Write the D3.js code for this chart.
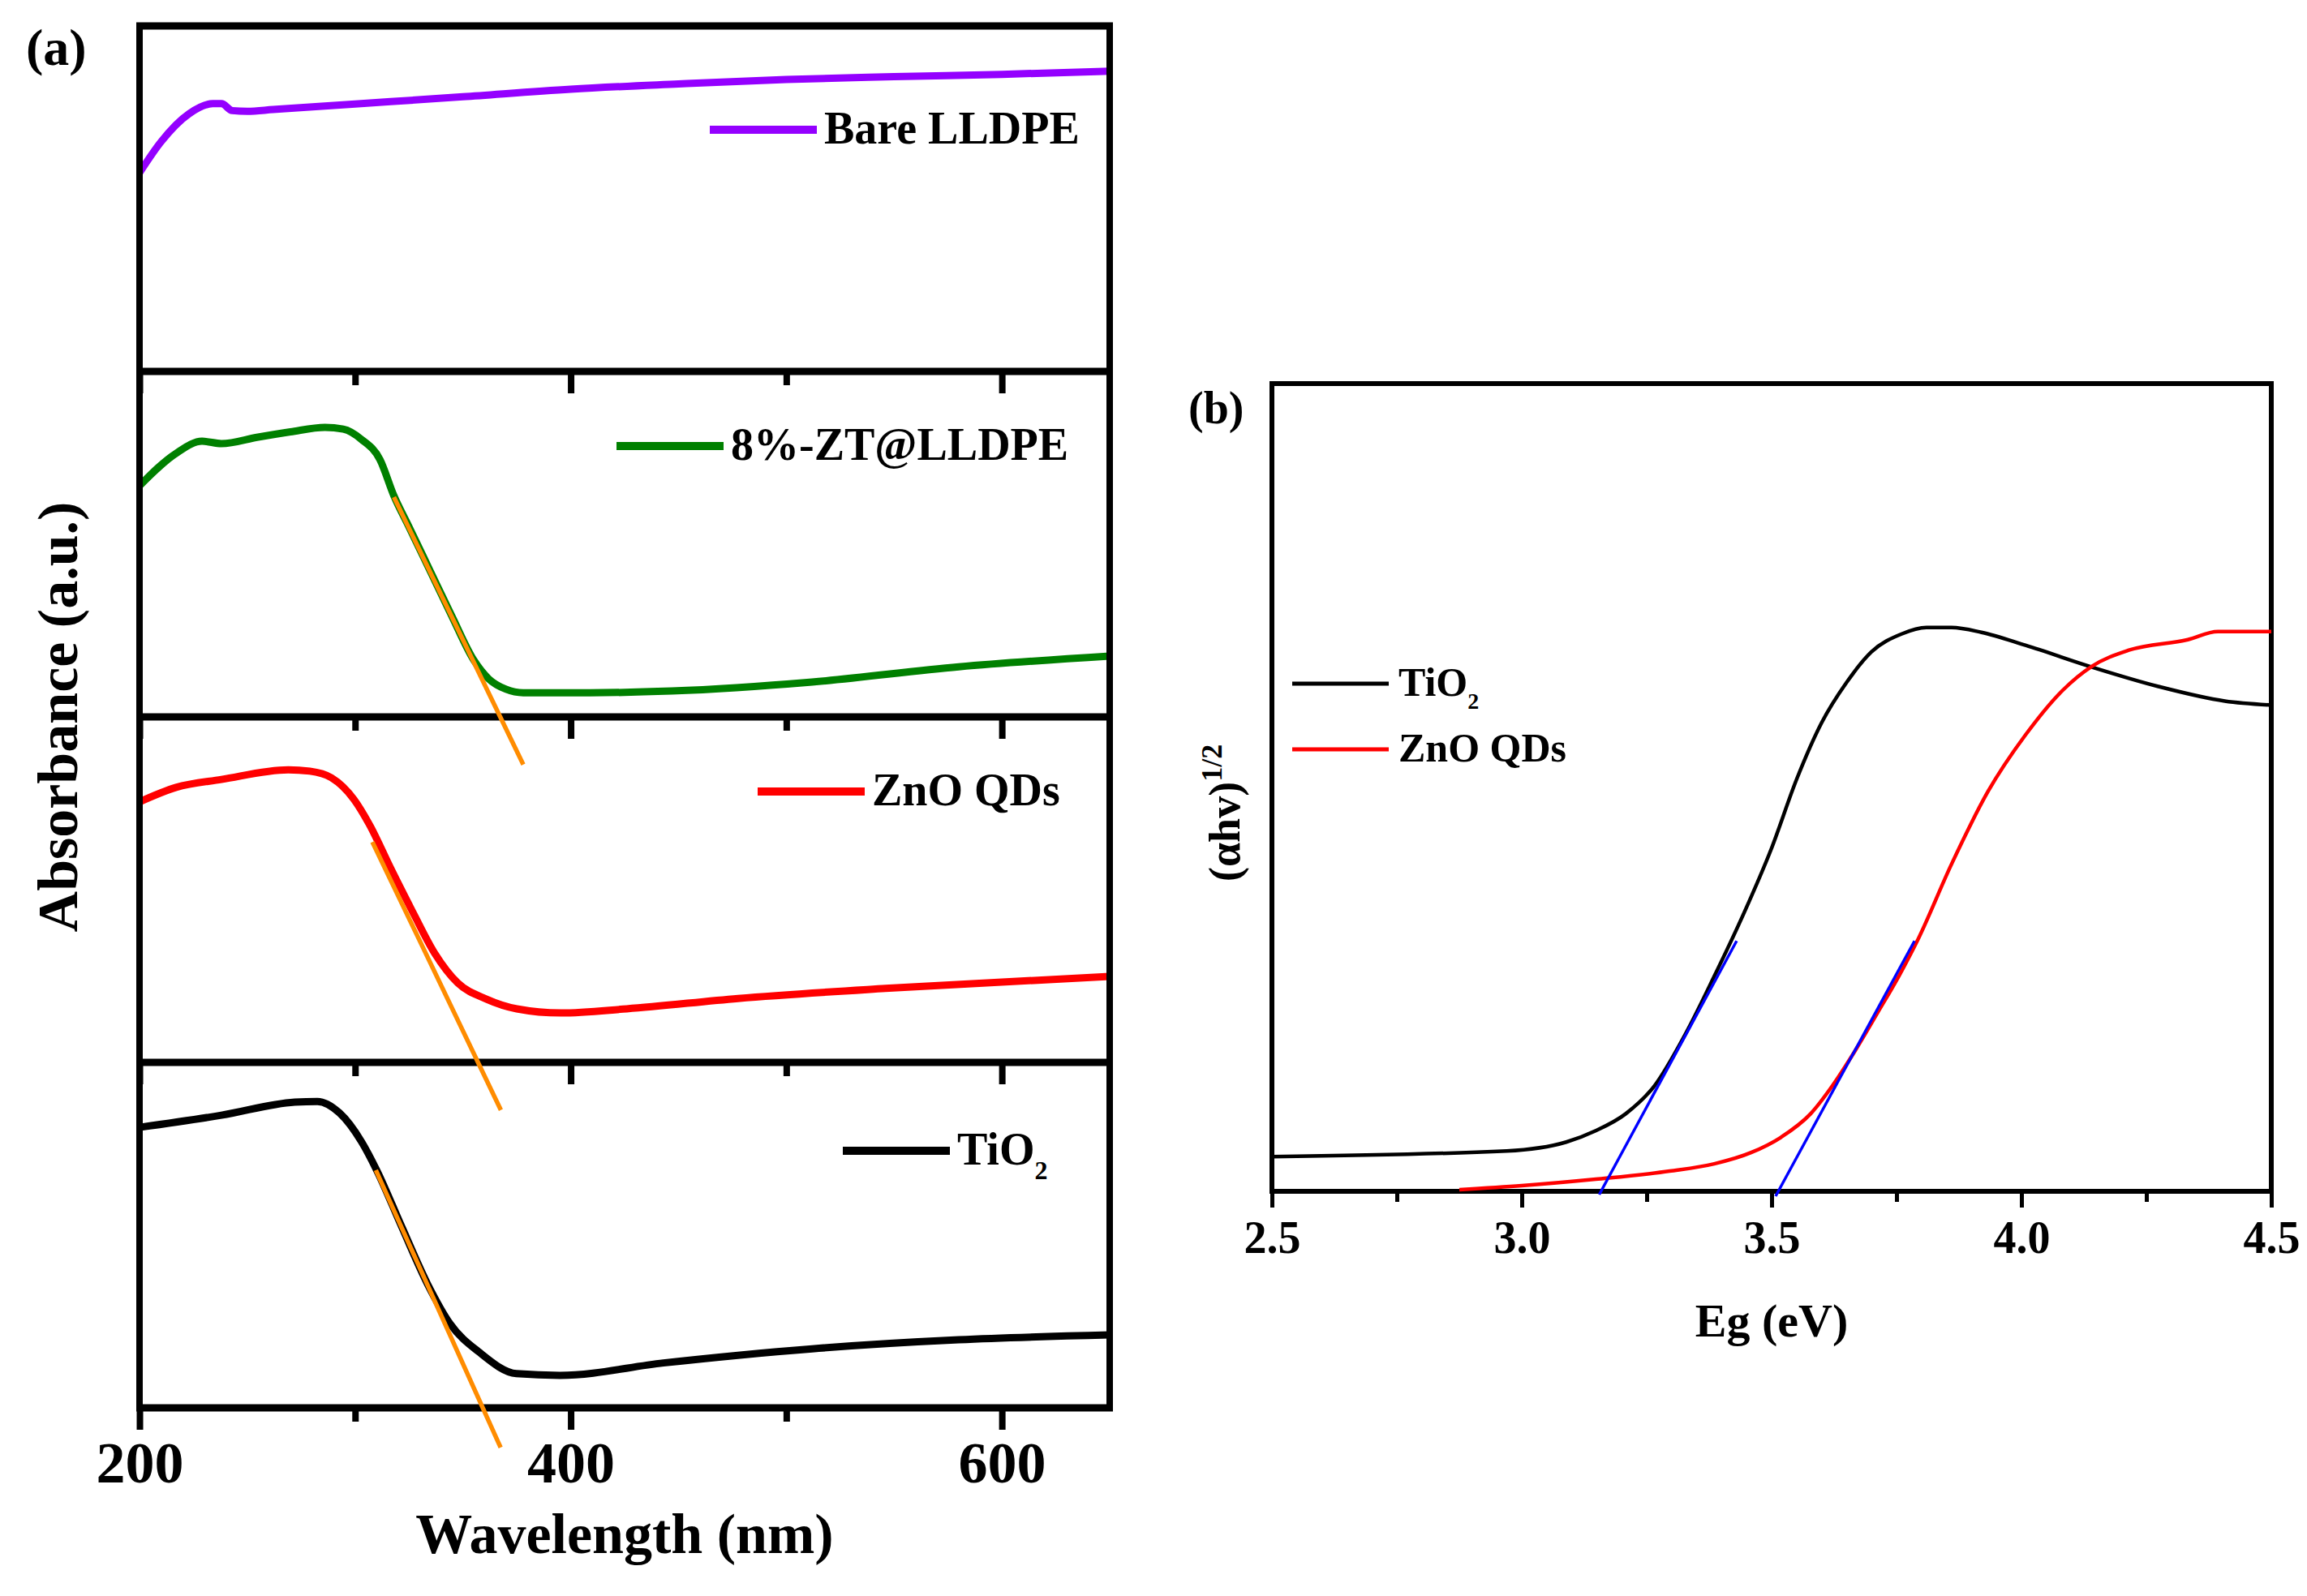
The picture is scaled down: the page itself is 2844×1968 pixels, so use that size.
<!DOCTYPE html>
<html lang="en">
<head>
<meta charset="UTF-8">
<title>UV-vis absorbance and Tauc plot</title>
<script src="https://cdn.jsdelivr.net/npm/d3@7"></script>
<style>
  body { margin: 0; background: #fff; }
  text { font-family: "Liberation Serif", "Times New Roman", serif; font-weight: bold; fill: #000; }
</style>
</head>
<body>
<script>
// ---- panel (a): absorbance spectra, one strip each (a.u.) ----
var bareWl  = [200, 210, 223, 234, 238, 243, 250, 262, 300, 350, 400, 450, 500, 550, 600, 650];
var bareAbs = [0.575, 0.665, 0.746, 0.775, 0.775, 0.755, 0.753, 0.758, 0.774, 0.795, 0.817, 0.832, 0.845, 0.853, 0.86, 0.869];

var ztWl  = [200, 217, 229, 238, 255, 270, 286, 294.5, 303, 311.5, 318, 325, 335, 345, 355, 362, 370, 378, 390, 409, 447, 512, 580, 650];
var ztAbs = [0.669, 0.763, 0.798, 0.791, 0.81, 0.825, 0.838, 0.833, 0.803, 0.745, 0.64, 0.55, 0.42, 0.29, 0.165, 0.11, 0.08, 0.07, 0.07, 0.07, 0.075, 0.101, 0.145, 0.176];

var znoWl  = [200, 217, 238, 269, 279, 289, 299.5, 306.5, 316.7, 327, 337, 347.6, 361, 375, 395.5, 426, 477.6, 546, 650];
var znoAbs = [0.754, 0.796, 0.819, 0.847, 0.843, 0.824, 0.761, 0.69, 0.559, 0.432, 0.315, 0.23, 0.183, 0.155, 0.143, 0.155, 0.185, 0.214, 0.249];

var tioWl  = [200, 238, 272, 282.5, 292.7, 303, 310, 321.7, 333.7, 344, 357.8, 374.8, 395, 443, 512, 580, 650];
var tioAbs = [0.812, 0.847, 0.885, 0.887, 0.854, 0.77, 0.688, 0.523, 0.357, 0.244, 0.16, 0.099, 0.094, 0.13, 0.171, 0.197, 0.211];

// orange band-edge tangents (start/end)
var ztTanWl  = [318, 378],   ztTanAbs  = [0.636, -0.138];
var znoTanWl = [308, 367.6], znoTanAbs = [0.638, -0.138];
var tioTanWl = [309.6, 367.5], tioTanAbs = [0.688, -0.115];

var stripNames  = ["Bare LLDPE", "8%-ZT@LLDPE", "ZnO QDs", "TiO2"];
var stripColors = ["#9400ff", "#008000", "#ff0000", "#000000"];
var wlTicks      = [200, 400, 600];
var wlMinorTicks = [300, 500];

// ---- panel (b): Tauc plot ----
var egTio  = [2.5, 2.97, 3.089, 3.148, 3.208, 3.266, 3.326, 3.385, 3.445, 3.50, 3.55, 3.60, 3.65, 3.70, 3.76, 3.81, 3.86, 3.92, 4.008, 4.141, 4.274, 4.407, 4.5];
var ahvTio = [0.043, 0.05, 0.061, 0.075, 0.096, 0.131, 0.193, 0.266, 0.345, 0.425, 0.51, 0.58, 0.63, 0.668, 0.69, 0.698, 0.698, 0.692, 0.676, 0.649, 0.625, 0.607, 0.602];
var egZno  = [2.875, 3.0, 3.148, 3.296, 3.385, 3.459, 3.519, 3.578, 3.622, 3.667, 3.711, 3.756, 3.793, 3.86, 3.933, 4.008, 4.082, 4.141, 4.215, 4.333, 4.393, 4.5];
var ahvZno = [0.002, 0.007, 0.015, 0.025, 0.034, 0.048, 0.067, 0.096, 0.131, 0.174, 0.22, 0.268, 0.312, 0.405, 0.495, 0.565, 0.62, 0.65, 0.67, 0.683, 0.693, 0.693];
var tioFitEg = [3.155, 3.43], tioFitAhv = [-0.004, 0.31];
var znoFitEg = [3.508, 3.786], znoFitAhv = [-0.006, 0.31];
var egTicks      = [2.5, 3.0, 3.5, 4.0, 4.5];
var egMinorTicks = [2.75, 3.25, 3.75, 4.25];

function zip(xs, ys) { return xs.map(function(v, i) { return [v, ys[i]]; }); }

var svg = d3.select("body").append("svg")
    .attr("width", 2844)
    .attr("height", 1968)
    .style("background", "#fff");

// ======== panel (a) ========
var aLeft = 172, aRight = 1368, aTop = 32, aBottom = 1736;
var stripH = (aBottom - aTop) / 4;
var xA = d3.scaleLinear().domain([200, 650]).range([aLeft, aRight]);

var stripData = [
  { wl: bareWl, abs: bareAbs, tan: null },
  { wl: ztWl,   abs: ztAbs,   tan: [ztTanWl, ztTanAbs] },
  { wl: znoWl,  abs: znoAbs,  tan: [znoTanWl, znoTanAbs] },
  { wl: tioWl,  abs: tioAbs,  tan: [tioTanWl, tioTanAbs] }
];
// legend anchor per strip: line start x, line y offset from strip top
var legendPos = [[875, 128], [760, 92], [934, 92], [1039, 109]];

var pa = svg.append("g").attr("id", "panel-a");

stripData.forEach(function(s, i) {
  var top = aTop + i * stripH, bottom = top + stripH;
  var y = d3.scaleLinear().domain([0, 1]).range([bottom, top]);
  var g = pa.append("g");

  // bottom axis ticks
  var major = d3.axisBottom(xA).tickValues(wlTicks).tickSize(27).tickSizeOuter(0)
      .tickFormat(i === 3 ? d3.format("d") : function() { return ""; });
  var minor = d3.axisBottom(xA).tickValues(wlMinorTicks).tickSize(17).tickSizeOuter(0)
      .tickFormat(function() { return ""; });
  [major, minor].forEach(function(ax) {
    var a = g.append("g").attr("transform", "translate(0," + bottom + ")").call(ax);
    a.select(".domain").remove();
    a.selectAll("line").attr("stroke", "#000").attr("stroke-width", 8);
    a.selectAll("text").attr("dy", null).attr("y", 92)
      .style("font-size", "72px").style("font-family", null);
  });

  // strip bottom border
  g.append("line").attr("x1", aLeft - 4).attr("x2", aRight + 4)
    .attr("y1", bottom).attr("y2", bottom)
    .attr("stroke", "#000").attr("stroke-width", 9);

  var line = d3.line().x(function(d) { return xA(d[0]); }).y(function(d) { return y(d[1]); })
      .curve(d3.curveMonotoneX);
  g.append("path").datum(zip(s.wl, s.abs))
    .attr("d", line).attr("fill", "none")
    .attr("stroke", stripColors[i]).attr("stroke-width", 9)
    .attr("stroke-linejoin", "round");

  if (s.tan) {
    g.append("path").datum(zip(s.tan[0], s.tan[1]))
      .attr("d", d3.line().x(function(d) { return xA(d[0]); }).y(function(d) { return y(d[1]); }))
      .attr("stroke", "#ff8c00").attr("stroke-width", 5.5).attr("fill", "none");
  }

  // legend
  var lx = legendPos[i][0], ly = top + legendPos[i][1];
  g.append("line").attr("x1", lx).attr("x2", lx + 132).attr("y1", ly).attr("y2", ly)
    .attr("stroke", stripColors[i]).attr("stroke-width", 10);
  var t = g.append("text").attr("x", lx + 141).attr("y", ly + 17).style("font-size", "56px");
  if (stripNames[i] === "TiO2") {
    t.append("tspan").text("TiO");
    t.append("tspan").attr("dy", 18).style("font-size", "32px").text("2");
  } else {
    t.text(stripNames[i]);
  }
});

// panel (a) frame: top, left, right
pa.append("line").attr("x1", aLeft - 4).attr("x2", aRight + 4).attr("y1", aTop).attr("y2", aTop)
  .attr("stroke", "#000").attr("stroke-width", 9);
pa.append("line").attr("x1", aLeft).attr("x2", aLeft).attr("y1", aTop - 4).attr("y2", aBottom + 4)
  .attr("stroke", "#000").attr("stroke-width", 8);
pa.append("line").attr("x1", aRight).attr("x2", aRight).attr("y1", aTop - 4).attr("y2", aBottom + 4)
  .attr("stroke", "#000").attr("stroke-width", 8);

pa.append("text").attr("x", (aLeft + aRight) / 2).attr("y", 1915)
  .attr("text-anchor", "middle").style("font-size", "70px").text("Wavelength (nm)");
pa.append("text").attr("transform", "translate(95," + (aTop + aBottom) / 2 + ") rotate(-90)")
  .attr("text-anchor", "middle").style("font-size", "70px").text("Absorbance (a.u.)");
pa.append("text").attr("x", 32).attr("y", 80).style("font-size", "64px").text("(a)");

// ======== panel (b) ========
var bLeft = 1568, bRight = 2800, bTop = 473, bBottom = 1469;
var xB = d3.scaleLinear().domain([2.5, 4.5]).range([bLeft, bRight]);
var yB = d3.scaleLinear().domain([0, 1]).range([bBottom, bTop]);
var pb = svg.append("g").attr("id", "panel-b");

var majorB = d3.axisBottom(xB).tickValues(egTicks).tickSize(20).tickSizeOuter(0).tickFormat(d3.format(".1f"));
var minorB = d3.axisBottom(xB).tickValues(egMinorTicks).tickSize(13).tickSizeOuter(0).tickFormat(function() { return ""; });
[majorB, minorB].forEach(function(ax) {
  var a = pb.append("g").attr("transform", "translate(0," + bBottom + ")").call(ax);
  a.select(".domain").remove();
  a.selectAll("line").attr("stroke", "#000").attr("stroke-width", 5);
  a.selectAll("text").attr("dy", null).attr("y", 76)
    .style("font-size", "56px").style("font-family", null);
});

pb.append("rect").attr("x", bLeft).attr("y", bTop)
  .attr("width", bRight - bLeft).attr("height", bBottom - bTop)
  .attr("fill", "none").attr("stroke", "#000").attr("stroke-width", 6);

var lineB = d3.line().x(function(d) { return xB(d[0]); }).y(function(d) { return yB(d[1]); });
pb.append("path").datum(zip(egTio, ahvTio)).attr("d", lineB.curve(d3.curveMonotoneX))
  .attr("fill", "none").attr("stroke", "#000").attr("stroke-width", 4.5);
pb.append("path").datum(zip(egZno, ahvZno)).attr("d", lineB.curve(d3.curveMonotoneX))
  .attr("fill", "none").attr("stroke", "#ff0000").attr("stroke-width", 4.5);
lineB.curve(d3.curveLinear);
pb.append("path").datum(zip(tioFitEg, tioFitAhv)).attr("d", lineB)
  .attr("fill", "none").attr("stroke", "#0000ff").attr("stroke-width", 3.5);
pb.append("path").datum(zip(znoFitEg, znoFitAhv)).attr("d", lineB)
  .attr("fill", "none").attr("stroke", "#0000ff").attr("stroke-width", 3.5);

// legend (b)
var legB = [["TiO2", "#000"], ["ZnO QDs", "#ff0000"]];
legB.forEach(function(d, i) {
  var ly = 843 + i * 81;
  pb.append("line").attr("x1", 1593).attr("x2", 1712).attr("y1", ly).attr("y2", ly)
    .attr("stroke", d[1]).attr("stroke-width", 5);
  var t = pb.append("text").attr("x", 1724).attr("y", ly + 15).style("font-size", "50px");
  if (d[0] === "TiO2") {
    t.append("tspan").text("TiO");
    t.append("tspan").attr("dy", 16).style("font-size", "28px").text("2");
  } else {
    t.text(d[0]);
  }
});

pb.append("text").attr("x", (bLeft + bRight) / 2).attr("y", 1648)
  .attr("text-anchor", "middle").style("font-size", "58px").text("Eg (eV)");
var yl = pb.append("text").attr("transform", "translate(1528,1087) rotate(-90)")
  .style("font-size", "54px");
yl.append("tspan").text("(\u03b1hv)");
yl.append("tspan").attr("dy", -22).style("font-size", "36px").text("1/2");
pb.append("text").attr("x", 1465).attr("y", 522).style("font-size", "56px").text("(b)");
</script>
</body>
</html>
